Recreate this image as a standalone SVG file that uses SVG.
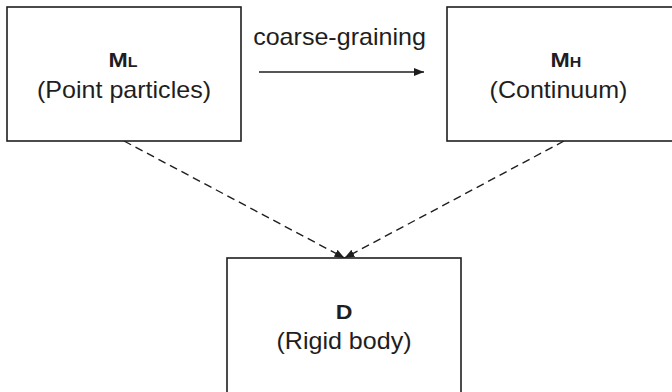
<svg xmlns="http://www.w3.org/2000/svg" width="672" height="392" viewBox="0 0 672 392">
  <style>
    .box { fill: #ffffff; stroke: #1e1e1e; stroke-width: 1.6; }
    .lbl { font-family: "Liberation Sans", Arial, sans-serif; font-size: 23px; fill: #1e1e1e; text-anchor: middle; }
    .ttl { font-family: "Liberation Sans", Arial, sans-serif; font-size: 21px; font-weight: bold; fill: #1e1e1e; text-anchor: middle; }
    .sub { font-size: 14.5px; }
    .solid { stroke: #1e1e1e; stroke-width: 1.4; fill: none; }
    .dash { stroke: #1e1e1e; stroke-width: 1.4; fill: none; stroke-dasharray: 8 5; }
  </style>
  <defs>
    <marker id="head" viewBox="0 0 10 8" refX="10" refY="4" markerWidth="10" markerHeight="8" markerUnits="userSpaceOnUse" orient="auto">
      <path d="M0,0 L10,4 L0,8 Z" fill="#1e1e1e"/>
    </marker>
  </defs>
  <rect width="672" height="392" fill="#ffffff"/>

  <g id="connectors">
    <line class="solid" x1="259" y1="72" x2="424" y2="72" marker-end="url(#head)"/>
    <text class="lbl" transform="translate(339.5,45) scale(1.09,1)">coarse-graining</text>
    <line class="dash" x1="124" y1="141" x2="344.5" y2="258" marker-end="url(#head)"/>
    <line class="dash" x1="564" y1="141" x2="344.5" y2="258" marker-end="url(#head)"/>
  </g>

  <g id="node-ml">
    <rect class="box" x="7" y="7" width="234" height="134"/>
    <text class="ttl" transform="translate(123,67) scale(1.1,1)">M<tspan class="sub">L</tspan></text>
    <text class="lbl" transform="translate(124,98) scale(1.09,1)">(Point particles)</text>
  </g>

  <g id="node-mh">
    <rect class="box" x="447" y="7" width="240" height="134"/>
    <text class="ttl" transform="translate(566,67) scale(1.1,1)">M<tspan class="sub">H</tspan></text>
    <text class="lbl" transform="translate(558.5,98) scale(1.09,1)">(Continuum)</text>
  </g>

  <g id="node-d">
    <rect class="box" x="227" y="258" width="234" height="150"/>
    <text class="ttl" transform="translate(344,319) scale(1.1,1)">D</text>
    <text class="lbl" transform="translate(344,349) scale(1.09,1)">(Rigid body)</text>
  </g>
</svg>
